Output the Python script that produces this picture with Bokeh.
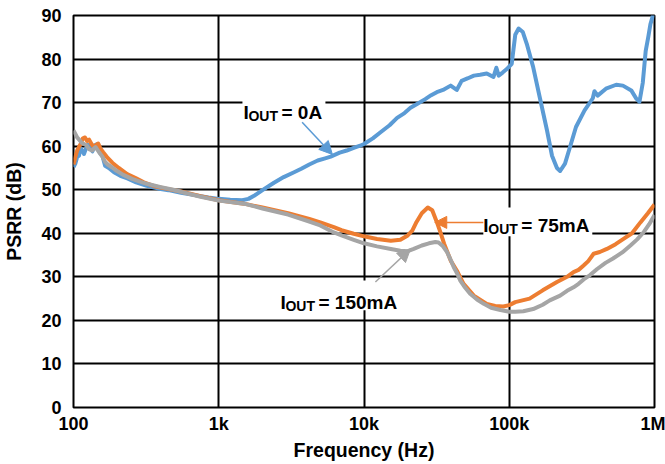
from bokeh.plotting import figure
from bokeh.models import (FixedTicker, BoxAnnotation, Label, Arrow, NormalHead, Range1d)
from bokeh.embed import file_html
from bokeh.resources import INLINE

# ---------------- data ----------------
x_ticks = [100, 1000, 10000, 100000, 1000000]
x_tick_labels = ["100", "1k", "10k", "100k", "1M"]
y_ticks = [0, 10, 20, 30, 40, 50, 60, 70, 80, 90]

freq_0a = [100, 103, 106, 109, 112, 115, 118, 122, 126, 130, 135, 140, 146, 152, 158, 165,
           175, 190, 210, 235, 270, 320, 380, 450, 550, 700, 850, 1000, 1200, 1450, 1600,
           1750, 2000, 2400, 2800, 3300, 3700, 4200, 4800, 5400, 5900, 6800, 7600, 8500,
           9400, 10000, 11500, 13000, 15000, 16900, 19000, 20900, 23500, 26400, 29000,
           31700, 35000, 39500, 43500, 47000, 52000, 57100, 63000, 70000, 77900, 81500,
           84600, 90000, 96200, 104000, 110000, 116000, 124000, 132000, 146000, 162000,
           182000, 197000, 213000, 224000, 242000, 262000, 288000, 330000, 376000, 386000,
           406000, 463000, 545000, 606000, 692000, 750000, 788000, 830000, 870000, 905000,
           937000, 985000, 1000000]
psrr_0a = [55.2, 56.0, 57.5, 57.8, 59.5, 59.0, 58.2, 59.5, 60.3, 59.8, 58.8, 60.2, 60.5, 58.5,
           57.8, 55.5, 55.0, 54.0, 53.2, 52.6, 51.7, 50.9, 50.3, 49.9, 49.3, 48.7, 48.2, 47.9,
           47.7, 47.6, 47.9, 48.6, 49.9, 51.6, 52.9, 54.0, 54.8, 55.8, 56.7, 57.2, 57.6, 58.5,
           59.0, 59.6, 60.1, 60.5, 61.8, 63.2, 64.8, 66.5, 67.6, 68.8, 69.8, 70.8, 71.7, 72.4,
           72.9, 73.9, 72.9, 75.0, 75.6, 76.2, 76.4, 76.7, 75.9, 78.0, 76.2, 76.9, 77.7, 78.9,
           85.6, 87.0, 86.2, 83.5, 78.2, 71.3, 63.6, 57.8, 55.0, 54.3, 56.0, 59.8, 64.4, 68.2,
           71.0, 72.6, 71.6, 73.2, 74.1, 73.9, 72.8, 70.9, 70.2, 74.5, 81.9, 85.0, 88.0, 90.5,
           91.0]

freq_75ma = [100, 103, 106, 109, 112, 116, 120, 124, 128, 133, 138, 143, 148, 153, 160, 170,
             185, 205, 234, 270, 305, 360, 442, 550, 750, 1000, 1490, 2000, 3000, 4200, 5000,
             6200, 7000, 8500, 10000, 12300, 15300, 17800, 20000, 21500, 23000, 25000, 27500,
             29500, 31700, 33600, 35600, 39700, 43600, 48500, 57000, 70000, 80000, 91000,
             100000, 110000, 138000, 170000, 213000, 250000, 277000, 300000, 325000, 350000,
             381000, 420000, 470000, 540000, 612000, 700000, 800000, 900000, 1000000]
psrr_75ma = [55.8, 57.5, 59.0, 59.8, 60.5, 61.8, 62.0, 61.2, 61.5, 60.5, 59.8, 60.3, 60.6, 59.5,
             58.6, 57.5, 56.2, 55.0, 53.6, 52.6, 51.7, 50.8, 50.2, 49.6, 48.5, 47.6, 46.8, 45.9,
             44.6, 43.3, 42.5, 41.4, 40.7, 39.9, 39.3, 38.7, 38.3, 38.5, 39.5, 40.6, 42.6, 44.6,
             45.9, 45.3, 42.6, 40.2, 37.6, 33.6, 31.4, 28.4, 25.7, 23.8, 23.3, 23.2, 23.5, 24.2,
             25.0, 26.9, 28.8, 30.0, 31.1, 31.6, 32.6, 33.6, 35.3, 35.7, 36.4, 37.5, 38.7, 40.0,
             42.5, 44.6, 46.6]

freq_150ma = [100, 103, 106, 110, 114, 118, 123, 128, 134, 142, 150, 158, 165, 172, 185, 197,
              220, 253, 290, 325, 400, 487, 600, 750, 1000, 1490, 2000, 3000, 4200, 5000, 6200,
              7000, 8500, 10000, 12300, 15300, 17800, 20000, 22000, 25000, 28000, 31000, 32600,
              35000, 37300, 39500, 41500, 43600, 45900, 49000, 53800, 60000, 66800, 75000,
              87000, 100000, 110000, 125000, 146000, 170000, 190000, 224000, 250000, 277000,
              300000, 325000, 360000, 403000, 460000, 518000, 600000, 683000, 760000, 845000,
              920000, 1000000]
psrr_150ma = [63.6, 62.8, 62.0, 61.4, 60.8, 60.5, 60.2, 59.3, 59.0, 59.8, 58.6, 57.6, 56.4,
              55.8, 55.1, 54.4, 53.4, 52.5, 51.8, 51.3, 50.6, 50.0, 49.2, 48.4, 47.5, 46.8,
              45.7, 44.3, 42.7, 41.8, 40.2, 39.5, 38.5, 37.7, 37.0, 36.4, 36.0, 35.9, 36.4,
              37.2, 37.7, 38.0, 37.9, 37.0, 35.7, 33.9, 32.2, 30.9, 29.2, 27.8, 26.1, 24.8,
              23.8, 22.9, 22.4, 22.0, 22.0, 22.1, 22.6, 23.6, 24.6, 25.7, 26.8, 27.6, 28.4,
              29.4, 30.4, 31.8, 33.2, 34.2, 35.6, 37.2, 38.6, 40.3, 42.1, 44.2]

BLUE = "#5B9BD5"
ORANGE = "#ED7D31"
GRAY = "#A5A5A5"
FONT = "Liberation Sans"

# ---------------- figure ----------------
p = figure(width=665, height=464, x_axis_type="log",
           x_range=Range1d(100, 1000000), y_range=Range1d(0, 90),
           output_backend="svg", toolbar_location=None,
           min_border_left=73, min_border_right=11, min_border_top=15, min_border_bottom=57,
           background_fill_color="white", border_fill_color="white")

p.outline_line_color = "black"
p.outline_line_width = 2

p.xaxis.ticker = FixedTicker(ticks=x_ticks, minor_ticks=[])
p.yaxis.ticker = FixedTicker(ticks=y_ticks, minor_ticks=[])
p.xaxis.major_label_overrides = {t: l for t, l in zip(x_ticks, x_tick_labels)}

for ax in (p.xaxis[0], p.yaxis[0]):
    ax.axis_line_color = None
    ax.major_tick_line_color = None
    ax.minor_tick_line_color = None
    ax.major_tick_out = 0
    ax.major_tick_in = 0
    ax.major_label_text_font = FONT
    ax.major_label_text_font_style = "bold"
    ax.major_label_text_font_size = "18px"
    ax.major_label_text_color = "black"
    ax.axis_label_text_font = FONT
    ax.axis_label_text_font_style = "bold"
    ax.axis_label_text_font_size = "19.5px"
    ax.axis_label_text_color = "black"

p.xaxis.axis_label = "Frequency (Hz)"
p.yaxis.axis_label = "PSRR (dB)"
p.xaxis.major_label_standoff = 6
p.xaxis.axis_label_standoff = 2
p.yaxis.major_label_standoff = 12
p.yaxis.axis_label_standoff = 13

for g in (p.xgrid[0], p.ygrid[0]):
    g.grid_line_color = "black"
    g.grid_line_width = 2

# ---------------- curves ----------------
p.line(freq_0a, psrr_0a, line_color=BLUE, line_width=4, line_join="round")
p.line(freq_75ma, psrr_75ma, line_color=ORANGE, line_width=4, line_join="round")
p.line(freq_150ma, psrr_150ma, line_color=GRAY, line_width=4, line_join="round")

# ---------------- annotations ----------------
def boxed_label(x, y, main, box, sub_size="14px", main_size="19px", eq_off=38):
    l, r, b, t = box
    p.add_layout(BoxAnnotation(left=l, right=r, bottom=b, top=t, fill_color="white",
                               fill_alpha=1.0, line_color=None))
    common = dict(text_font=FONT, text_font_style="bold", text_color="black",
                  text_baseline="alphabetic", text_align="left")
    p.add_layout(Label(x=x, y=y, text="I", text_font_size=main_size, **common))
    p.add_layout(Label(x=x, y=y, text="OUT", x_offset=5, y_offset=-4,
                       text_font_size=sub_size, **common))
    p.add_layout(Label(x=x, y=y, text=main, x_offset=eq_off,
                       text_font_size=main_size, **common))

boxed_label(1480, 67.8, "= 0A", (1456, 5425, 66.6, 71.4))
boxed_label(66300, 41.8, "= 75mA", (66300, 373000, 39.3, 45.9))
boxed_label(2660, 24.2, "= 150mA", (2617, 17800, 22.3, 29.15))

def arrow(x0, y0, x1, y1, c, size=12):
    p.add_layout(Arrow(end=NormalHead(size=size, fill_color=c, line_color=c),
                       x_start=x0, y_start=y0, x_end=x1, y_end=y1,
                       line_color=c, line_width=1.5))

arrow(3750, 65.5, 6060, 58.1, BLUE, 13)
arrow(66300, 42.5, 30700, 42.5, ORANGE, 12)
arrow(11980, 28.8, 20900, 36.4, GRAY, 13)

open("out.html", "w").write(file_html(p, INLINE))
